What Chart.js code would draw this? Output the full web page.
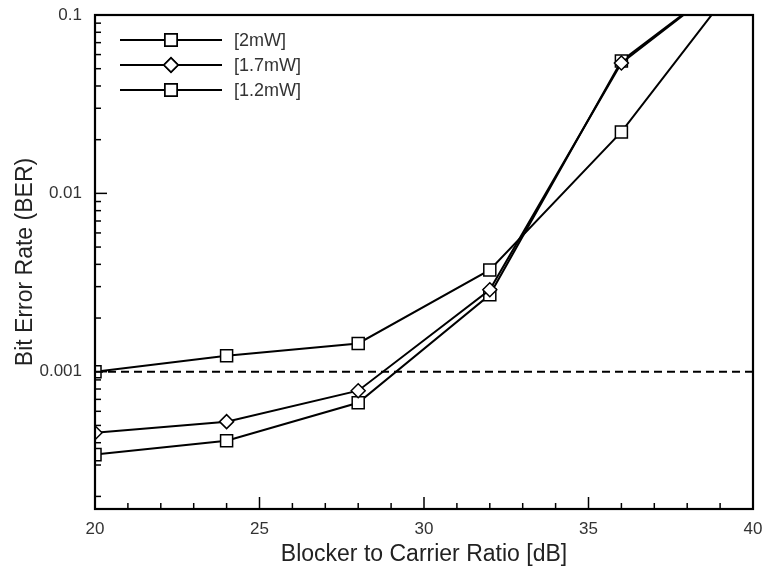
<!DOCTYPE html>
<html>
<head>
<meta charset="utf-8">
<script src="https://cdn.jsdelivr.net/npm/chart.js@4/dist/chart.umd.min.js"></script>
<style>
  html, body { margin: 0; padding: 0; background: #fff; }
  #wrap { width: 766px; height: 571px; }
</style>
</head>
<body>
<div id="wrap"><canvas id="grafico"></canvas></div>
<script>
// Data
const ratios = [20, 24, 28, 32, 36, 40];
const ber2mW = [0.00100, 0.00123, 0.00144, 0.00372, 0.0221, 0.20];
const ber17mW = [0.000455, 0.000525, 0.000783, 0.00288, 0.0538, 0.20];
const ber12mW = [0.000343, 0.000410, 0.000670, 0.00270, 0.0552, 0.20];
const limite = [0.001, 0.001];
const limiteX = [20, 40];
const yTicks = [0.001, 0.01, 0.1];

const pontos = (xs, ys) => xs.map((x, i) => ({ x: x, y: ys[i] }));
const fonte = '"Liberation Sans", Arial, sans-serif';

// Inward ticks, plot box and legend drawn on top
const extras = {
    id: 'extras',
    afterDatasetsDraw(chart) {
        const ctx = chart.ctx;
        const a = chart.chartArea;
        const xs = chart.scales.x;
        const ys = chart.scales.y;
        ctx.save();
        ctx.strokeStyle = '#000';
        ctx.lineWidth = 2.2;
        ctx.strokeRect(a.left, a.top, a.right - a.left, a.bottom - a.top);

        ctx.lineWidth = 1.5;
        for (let v = 20; v <= 40; v++) {
            const px = xs.getPixelForValue(v);
            const len = v % 5 === 0 ? 12 : 6;
            ctx.beginPath();
            ctx.moveTo(px, a.bottom);
            ctx.lineTo(px, a.bottom - len);
            ctx.stroke();
        }
        for (let e = -4; e <= -1; e++) {
            for (let m = 1; m <= 9; m++) {
                const v = m * Math.pow(10, e);
                if (v < ys.min || v > ys.max) continue;
                const py = ys.getPixelForValue(v);
                const len = m === 1 ? 12 : 6;
                ctx.beginPath();
                ctx.moveTo(a.left, py);
                ctx.lineTo(a.left + len, py);
                ctx.stroke();
            }
        }

        // legend
        const series = chart.data.datasets.filter(d => d.label);
        series.forEach((d, i) => {
            const y = 40 + i * 25;
            ctx.strokeStyle = '#000';
            ctx.lineWidth = 2;
            ctx.beginPath();
            ctx.moveTo(120, y);
            ctx.lineTo(222, y);
            ctx.stroke();
            Chart.helpers.drawPoint(ctx, {
                pointStyle: d.pointStyle,
                radius: d.pointRadius,
                borderWidth: d.pointBorderWidth
            }, 171, y);
            ctx.fillStyle = '#fff';
            ctx.fill();
            ctx.lineWidth = d.pointBorderWidth;
            ctx.stroke();
            ctx.fillStyle = '#333';
            ctx.font = '18px ' + fonte;
            ctx.textBaseline = 'middle';
            ctx.fillText(d.label, 234, y + 1);
        });
        ctx.restore();
    }
};

const serie = (label, ys, estilo, raio) => ({
    label: label,
    data: pontos(ratios, ys),
    borderColor: '#000',
    borderWidth: 2,
    pointStyle: estilo,
    pointRadius: raio,
    pointBorderWidth: 1.5,
    pointBackgroundColor: '#fff',
    pointBorderColor: '#000',
    clip: 0,
    tension: 0
});

const grafico = new Chart(document.getElementById('grafico'), {
    type: 'line',
    data: {
        datasets: [
            {
                label: '',
                data: pontos(limiteX, limite),
                borderColor: '#000',
                borderWidth: 2,
                borderDash: [8, 5],
                pointRadius: 0,
                clip: 0
            },
            serie('[2mW]', ber2mW, 'rect', 8.5),
            serie('[1.7mW]', ber17mW, 'rectRot', 7),
            serie('[1.2mW]', ber12mW, 'rect', 8.5)
        ]
    },
    options: {
        responsive: true,
        maintainAspectRatio: false,
        animation: false,
        layout: { padding: { top: 15, right: 13, left: 0, bottom: 0 } },
        plugins: {
            legend: { display: false },
            tooltip: { enabled: false }
        },
        scales: {
            x: {
                type: 'linear',
                min: 20,
                max: 40,
                grid: { display: false, drawTicks: false },
                border: { display: false },
                ticks: {
                    stepSize: 5,
                    padding: 10,
                    color: '#333',
                    font: { family: fonte, size: 17 }
                },
                title: {
                    display: true,
                    text: 'Blocker to Carrier Ratio [dB]',
                    color: '#222',
                    font: { family: fonte, size: 23 },
                    padding: { top: 0, bottom: 3 }
                },
                afterFit(scale) {
                    scale.height = 62;
                    scale.paddingLeft = 0;
                    scale.paddingRight = 0;
                }
            },
            y: {
                type: 'logarithmic',
                min: 0.00017,
                max: 0.1,
                grid: { display: false, drawTicks: false },
                border: { display: false },
                afterBuildTicks(scale) {
                    scale.ticks = yTicks.map(v => ({ value: v }));
                },
                ticks: {
                    padding: 13,
                    color: '#333',
                    font: { family: fonte, size: 17 },
                    callback: v => String(v)
                },
                title: {
                    display: true,
                    text: 'Bit Error Rate (BER)',
                    color: '#222',
                    font: { family: fonte, size: 23 },
                    padding: { top: 12, bottom: 0 }
                },
                afterFit(scale) {
                    scale.width = 95;
                    scale.paddingTop = 0;
                    scale.paddingBottom = 0;
                }
            }
        }
    },
    plugins: [extras]
});
</script>
</body>
</html>
